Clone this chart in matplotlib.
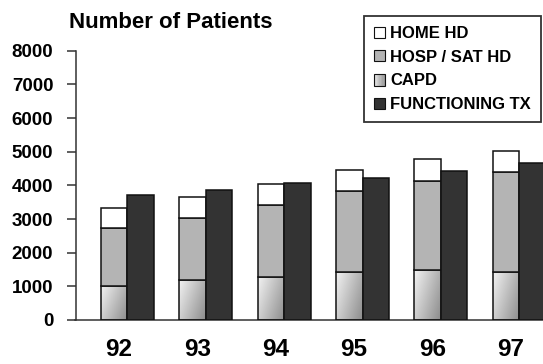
import numpy as np
import matplotlib
matplotlib.use("Agg")
import matplotlib.pyplot as plt
from matplotlib.patches import Rectangle
from matplotlib.colors import LinearSegmentedColormap

plt.rcParams['font.family'] = ['Liberation Sans', 'DejaVu Sans']
plt.rcParams['font.weight'] = 'bold'

# patients by modality, year end
years = ['92', '93', '94', '95', '96', '97']
capd = [1020, 1200, 1290, 1440, 1480, 1440]
hosp_sat_hd = [1710, 1840, 2120, 2380, 2650, 2950]
home_hd = [610, 630, 640, 630, 650, 620]
functioning_tx = [3720, 3870, 4070, 4210, 4440, 4670]

capd_cmap = LinearSegmentedColormap.from_list('capd', ['#f2f2f2', '#8c8c8c'])
hosp_color = '#b4b4b4'
tx_color = '#333333'
edge = '#111111'

fig = plt.figure(figsize=(5.43, 3.64), dpi=100)
ax = fig.add_axes([75.5 / 543, 1 - 320 / 364, 483 / 543, 269.2 / 364])

x = np.arange(len(years))
w = 0.338
xs = x - w / 2
xt = x + w / 2

capd_bars = ax.bar(xs, capd, w, color='none', edgecolor=edge, linewidth=1.1, zorder=3)
ax.bar(xs, hosp_sat_hd, w, bottom=capd, color=hosp_color, edgecolor=edge,
       linewidth=1.1, zorder=3)
ax.bar(xs, home_hd, w, bottom=np.add(capd, hosp_sat_hd), color='white',
       edgecolor=edge, linewidth=1.1, zorder=3)
ax.bar(xt, functioning_tx, w, color=tx_color, edgecolor=edge, linewidth=1.1, zorder=3)

# diagonal shading inside the CAPD segments
gx, gy = np.meshgrid(np.linspace(0, 1, 40), np.linspace(0, 1, 60))
shade = 0.65 * gx + 0.35 * (1 - gy)
for bar in capd_bars:
    x0, y0 = bar.get_x(), bar.get_y()
    im = ax.imshow(shade, cmap=capd_cmap, vmin=0, vmax=1, origin='lower',
                   extent=[x0, x0 + bar.get_width(), y0, y0 + bar.get_height()],
                   aspect='auto', interpolation='bilinear', zorder=2)
    im.set_clip_path(bar)

ax.set_xlim(-0.661, 5.5)
ax.set_ylim(0, 8000)
ax.set_yticks(np.arange(0, 8001, 1000))
ax.set_xticks(xs + 0.06)
ax.set_xticklabels(years)

for s in ['top', 'right']:
    ax.spines[s].set_visible(False)
for s in ['left', 'bottom']:
    ax.spines[s].set_color('#333333')
    ax.spines[s].set_linewidth(1.1)

ax.tick_params(axis='y', length=6.5, width=1.1, color='#333333', pad=9.5,
               labelsize=13.5)
ax.tick_params(axis='x', length=0, pad=13, labelsize=17.5)
for lbl in ax.get_xticklabels() + ax.get_yticklabels():
    lbl.set_fontweight('bold')

fig.text(69 / 543, 1 - 28.3 / 364, 'Number of Patients', fontsize=16,
         fontweight='bold', va='baseline', ha='left')


class GradientHandler:
    def legend_artist(self, legend, orig_handle, fontsize, handlebox):
        x0, y0 = handlebox.xdescent, handlebox.ydescent
        wd, ht = handlebox.width, handlebox.height
        n = 8
        for k in range(n):
            c = capd_cmap(0.15 + 0.7 * k / (n - 1))
            handlebox.add_artist(Rectangle((x0 + k * wd / n, y0), wd / n + 0.2, ht,
                                           facecolor=c, edgecolor='none',
                                           transform=handlebox.get_transform()))
        outline = Rectangle((x0, y0), wd, ht, facecolor='none', edgecolor=edge,
                            linewidth=0.8, transform=handlebox.get_transform())
        handlebox.add_artist(outline)
        return outline


h_home = Rectangle((0, 0), 1, 1, facecolor='white', edgecolor=edge, linewidth=0.8)
h_hosp = Rectangle((0, 0), 1, 1, facecolor=hosp_color, edgecolor=edge, linewidth=0.8)
h_capd = Rectangle((0, 0), 1, 1, facecolor='#cccccc', edgecolor=edge, linewidth=0.8)
h_tx = Rectangle((0, 0), 1, 1, facecolor=tx_color, edgecolor=edge, linewidth=0.8)

leg = fig.legend([h_home, h_hosp, h_capd, h_tx],
                 ['HOME HD', 'HOSP / SAT HD', 'CAPD', 'FUNCTIONING TX'],
                 handler_map={h_capd: GradientHandler()},
                 loc='upper right', bbox_to_anchor=(540.7 / 543, 1 - 16 / 364),
                 prop={'size': 12, 'weight': 'bold'}, fancybox=False,
                 frameon=True, edgecolor='black', borderpad=0.6,
                 handlelength=0.66, handleheight=0.66, handletextpad=0.3,
                 labelspacing=0.52, borderaxespad=0)
leg.get_frame().set_linewidth(1.3)

fig.savefig('out.png', dpi=100)
